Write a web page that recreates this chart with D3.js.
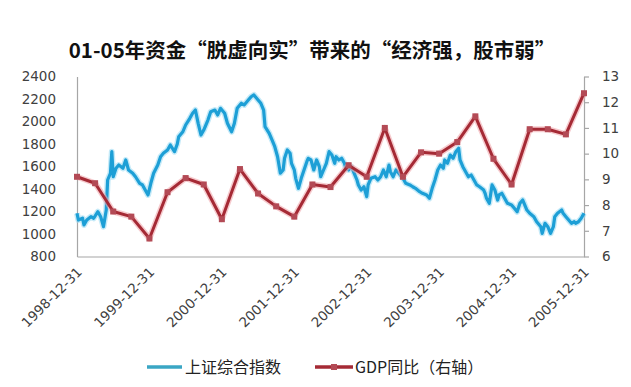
<!DOCTYPE html>
<html>
<head>
<meta charset="utf-8">
<script src="https://cdn.jsdelivr.net/npm/d3@7"></script>
<style>
    body { margin: 0; background: #fff; }
    svg { display: block; }
</style>
</head>
<body>
<div id="chart"></div>
<script>
// year-end labels on the category axis
const yearLabels = ["1998-12-31", "1999-12-31", "2000-12-31", "2001-12-31",
                    "2002-12-31", "2003-12-31", "2004-12-31", "2005-12-31"];
const yearWeeks = [0, 52, 104, 156, 208, 260, 312, 364];

// quarterly GDP yoy (%), 1998Q4 .. 2005Q4
const gdpValues = [9.1, 8.85, 7.75, 7.55, 6.7, 8.5, 9.05, 8.8, 7.45, 9.4, 8.45, 7.95,
                   7.55, 8.8, 8.7, 9.55, 9.1, 11.0, 9.1, 10.05, 10.0, 10.45, 11.45, 9.8,
                   8.8, 10.95, 10.95, 10.75, 12.35];

// Shanghai composite, weeks after 1998-12-31
const stockWeeks = [0, 1, 4, 5, 7, 10, 12, 15, 17, 19, 21, 22, 24, 25, 26, 28, 30, 33, 35, 37,
                    40, 42, 45, 47, 49, 51, 53, 55, 58, 60, 62, 65, 67, 70, 72, 73, 76, 78, 81, 83,
                    85, 87, 89, 91, 94, 96, 99, 101, 103, 106, 108, 111, 113, 115, 118, 120, 123, 125, 127, 130,
                    132, 134, 135, 138, 140, 142, 144, 146, 148, 149, 151, 153, 154, 156, 157, 159, 161, 163, 165, 166,
                    168, 170, 172, 174, 175, 177, 179, 181, 183, 185, 186, 188, 190, 192, 193, 195, 197, 199, 201, 202,
                    204, 206, 208, 209, 211, 214, 216, 218, 220, 222, 224, 225, 227, 229, 231, 234, 236, 239, 241, 243,
                    246, 248, 251, 253, 255, 257, 259, 261, 263, 264, 266, 268, 270, 272, 274, 275, 277, 279, 281, 283,
                    285, 287, 289, 292, 293, 294, 296, 298, 300, 302, 303, 305, 307, 309, 312, 314, 316, 318, 320, 321,
                    323, 325, 328, 330, 333, 334, 336, 338, 340, 342, 343, 345, 348, 349, 351, 353, 355, 357, 358, 360,
                    362, 364];
const stockValues = [1184, 1124, 1140, 1080, 1124, 1154, 1140, 1198, 1154, 1065, 1213, 1480, 1540, 1732, 1509, 1584, 1613, 1584, 1658, 1569,
                     1540, 1509, 1451, 1436, 1391, 1347, 1451, 1540, 1613, 1687, 1717, 1747, 1791, 1732, 1800, 1865, 1909, 1969, 2028, 2073,
                     2102, 1984, 1880, 1924, 2013, 2087, 2102, 2058, 2117, 2073, 1984, 1909, 1984, 2117, 2162, 2147, 2191, 2220, 2236, 2191,
                     2162, 2102, 1954, 1895, 1836, 1776, 1687, 1540, 1569, 1673, 1747, 1717, 1628, 1569, 1495, 1406, 1495, 1569, 1643, 1673,
                     1658, 1569, 1658, 1598, 1509, 1569, 1628, 1732, 1702, 1628, 1687, 1658, 1673, 1628, 1584, 1569, 1598, 1540, 1480, 1436,
                     1391, 1420, 1332, 1436, 1495, 1509, 1480, 1509, 1569, 1509, 1613, 1554, 1509, 1569, 1540, 1495, 1451, 1436, 1420, 1406,
                     1376, 1362, 1347, 1317, 1406, 1480, 1569, 1613, 1584, 1658, 1628, 1702, 1673, 1732, 1762, 1658, 1598, 1554, 1509, 1524,
                     1480, 1436, 1420, 1391, 1362, 1317, 1273, 1436, 1391, 1302, 1347, 1362, 1317, 1273, 1258, 1228, 1198, 1273, 1302, 1273,
                     1213, 1184, 1154, 1109, 1065, 1006, 1095, 1065, 1006, 1065, 1154, 1184, 1213, 1184, 1154, 1124, 1095, 1109, 1095, 1109,
                     1140, 1184];

const leftTicks = [800, 1000, 1200, 1400, 1600, 1800, 2000, 2200, 2400];
const rightTicks = [6, 7, 8, 9, 10, 11, 12, 13];

const W = 631, H = 387;
const plot = { left: 77, right: 584, top: 76.5, bottom: 256.5 };
const BLUE = "#1d9fd6", RED = "#a52a35";
const cjk = "'Noto Sans CJK SC', 'Noto Sans', sans-serif";

const svg = d3.select("#chart").append("svg")
    .attr("width", W)
    .attr("height", H);

svg.append("text")
    .attr("x", 312).attr("y", 58)
    .attr("text-anchor", "middle")
    .style("font-family", cjk).style("font-weight", "bold").style("font-size", "20.5px")
    .style("fill", "#111")
    .text("01-05年资金“脱虚向实”带来的“经济强，股市弱”");

const x = d3.scaleLinear().domain([0, 364]).range([plot.left, plot.right]);
const yL = d3.scaleLinear().domain([800, 2400]).range([plot.bottom, plot.top]);
const yR = d3.scaleLinear().domain([6, 13]).range([plot.bottom, plot.top]);

function styleAxis(g) {
    g.selectAll("path, line").style("stroke", "#a6a6a6").style("stroke-width", 1.2);
    g.selectAll("text").style("fill", "#404040")
        .style("font-family", "'DejaVu Sans', sans-serif").style("font-size", "13.5px");
}

svg.append("g").attr("transform", `translate(${plot.left},0)`)
    .call(d3.axisLeft(yL).tickValues(leftTicks).tickFormat(d3.format("d")).tickSize(0).tickPadding(21))
    .call(styleAxis);

svg.append("g").attr("transform", `translate(${plot.right},0)`)
    .call(d3.axisRight(yR).tickValues(rightTicks).tickFormat(d3.format("d"))
        .tickSizeInner(5).tickSizeOuter(0).tickPadding(13))
    .call(styleAxis);

const xAxis = svg.append("g").attr("transform", `translate(0,${plot.bottom})`)
    .call(d3.axisBottom(x).tickValues(yearWeeks).tickFormat((d, i) => yearLabels[i]).tickSize(0))
    .call(styleAxis);
xAxis.selectAll("text")
    .attr("x", 0).attr("y", 0).attr("dy", "0.35em")
    .attr("text-anchor", "end")
    .attr("transform", "translate(2,13) rotate(-45)");

// stock index (left axis)
const stock = stockWeeks.map((w, i) => ({ w, v: stockValues[i] }));
const stockLine = d3.line().x(d => x(d.w)).y(d => yL(d.v));

svg.append("path").datum(stock)
    .attr("d", stockLine)
    .attr("fill", "none").attr("stroke", "#9fdcf3").attr("stroke-width", 6)
    .attr("stroke-linejoin", "round").attr("opacity", 0.6);
svg.append("path").datum(stock)
    .attr("d", stockLine)
    .attr("fill", "none").attr("stroke", BLUE).attr("stroke-width", 3.2)
    .attr("stroke-linejoin", "round");

// GDP (right axis)
const gdp = gdpValues.map((v, i) => ({ w: i * 13, v }));
const gdpLine = d3.line().x(d => x(d.w)).y(d => yR(d.v));

svg.append("path").datum(gdp)
    .attr("d", gdpLine)
    .attr("fill", "none").attr("stroke", "#f0a8ad").attr("stroke-width", 6)
    .attr("stroke-linejoin", "round").attr("opacity", 0.6);
svg.append("path").datum(gdp)
    .attr("d", gdpLine)
    .attr("fill", "none").attr("stroke", RED).attr("stroke-width", 3)
    .attr("stroke-linejoin", "round");
svg.selectAll("rect.gdp").data(gdp).enter().append("rect")
    .attr("class", "gdp")
    .attr("x", d => x(d.w) - 3).attr("y", d => yR(d.v) - 3)
    .attr("width", 6).attr("height", 6)
    .attr("fill", "#b34a55");

// legend
const legend = svg.append("g").style("font-family", cjk).style("font-size", "16px").style("fill", "#222");
legend.append("line")
    .attr("x1", 147).attr("x2", 182).attr("y1", 367).attr("y2", 367)
    .attr("stroke", "#3aa6c4").attr("stroke-width", 3.5);
legend.append("text").attr("x", 185).attr("y", 373).text("上证综合指数");
legend.append("line")
    .attr("x1", 315).attr("x2", 353).attr("y1", 367).attr("y2", 367)
    .attr("stroke", RED).attr("stroke-width", 3.5);
legend.append("rect")
    .attr("x", 331).attr("y", 364).attr("width", 6).attr("height", 6)
    .attr("fill", "#b34a55");
legend.append("text").attr("x", 355).attr("y", 373).text("GDP同比（右轴）");
</script>
</body>
</html>
